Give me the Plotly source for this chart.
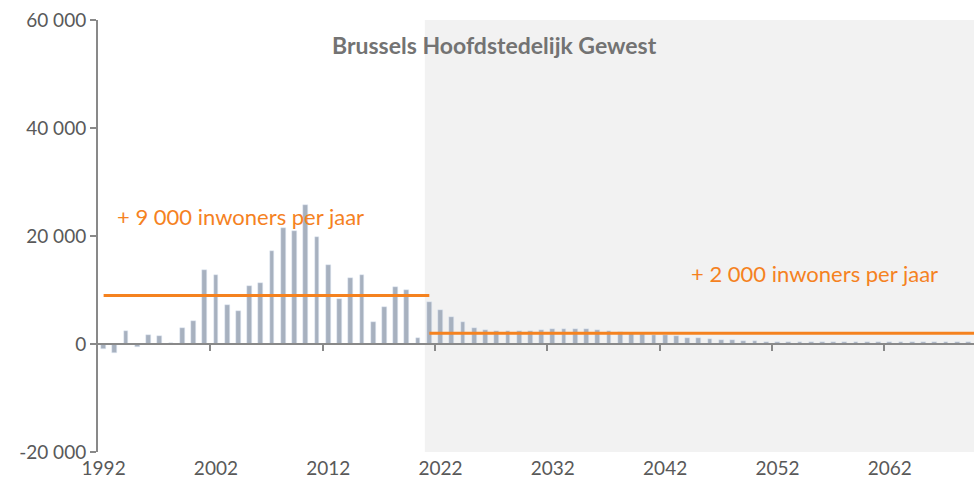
import plotly.graph_objects as go

years = list(range(1992, 2070))
growth = [
    -1000, -1700, 2350, -600, 1700, 1500, 100, 2900, 4250, 13700,
    12700, 7200, 6200, 10700, 11350, 17300, 21500, 20900, 25700, 19800,
    14600, 8300, 12150, 12800, 4000, 6900, 10500, 10000, 1100, 7700,
    6300, 5000, 4000, 3000, 2600, 2500, 2500, 2450, 2450, 2650,
    2780, 2850, 2850, 2780, 2650, 2450, 2250, 2000, 1900, 1750,
    1650, 1450, 1200, 1050, 880, 750, 680, 560, 480, 450,
    420, 380, 360, 350, 350, 350, 350, 350, 350, 350,
    350, 350, 350, 350, 350, 350, 350, 350,
]
avg_labels = ["+ 9 000 inwoners per jaar", "+ 2 000 inwoners per jaar"]
avg_values = [9000, 2000]
avg_start = [1992, 2021]
avg_end = [2021, years[-1] + 0.5]
title = "Brussels Hoofdstedelijk Gewest"
ytickvals = [-20000, 0, 20000, 40000, 60000]
yticktext = ["-20 000", "0", "20 000", "40 000", "60 000"]
xtickvals = list(range(1992, 2070, 10))
projection_start = 2020.6

ORANGE = "#f5821f"
BAR = "#a7b1bf"
TXT = "#595959"
AX = "#898989"
FONT = "Lato, 'Open Sans', sans-serif"

fig = go.Figure()
fig.add_trace(go.Bar(x=years, y=growth, marker_color=BAR, width=0.42, showlegend=False, hoverinfo="x+y"))
for s, e, v in zip(avg_start, avg_end, avg_values):
    fig.add_trace(go.Scatter(x=[s, e], y=[v, v], mode="lines", line=dict(color=ORANGE, width=3),
                             showlegend=False))
# invisible trace for the zero-line axis
fig.add_trace(go.Scatter(x=[years[0]], y=[0], xaxis="x2", mode="markers", marker_opacity=0,
                         showlegend=False, hoverinfo="skip"))

fig.add_shape(type="rect", xref="x", yref="y", x0=projection_start, x1=years[-1] + 0.5,
              y0=ytickvals[0], y1=ytickvals[-1], fillcolor="#f2f2f2", line_width=0, layer="below")

fig.add_annotation(x=1993.0, y=23700, text=avg_labels[0], showarrow=False, xanchor="left",
                   font=dict(color=ORANGE, size=22, family=FONT))
fig.add_annotation(x=2066.5, y=13000, text=avg_labels[1], showarrow=False, xanchor="right",
                   font=dict(color=ORANGE, size=22, family=FONT))
fig.add_annotation(x=2026.8, y=55400, text="<b>" + title + "</b>", showarrow=False, xanchor="center",
                   font=dict(color="#737373", size=23, family=FONT))

xr = [years[0] - 0.5, years[-1] + 0.5]
fig.update_layout(
    width=974, height=482,
    margin=dict(l=98, r=0, t=20, b=30),
    paper_bgcolor="white", plot_bgcolor="rgba(0,0,0,0)",
    font=dict(family=FONT, color=TXT, size=19),
    bargap=0,
    xaxis=dict(range=xr, tickvals=xtickvals, ticktext=[str(v) for v in xtickvals],
               showline=False, showgrid=False, zeroline=False, ticks="",
               tickfont=dict(size=19, color=TXT), ticklabelstandoff=3),
    xaxis2=dict(range=xr, overlaying="x", anchor="free", position=0.25, side="bottom",
                showline=True, linecolor=AX, linewidth=2, showgrid=False, zeroline=False,
                ticks="outside", ticklen=6, tickwidth=2, tickcolor=AX,
                tickvals=[v + 9.5 for v in xtickvals[:-1]], showticklabels=False),
    yaxis=dict(range=[ytickvals[0], ytickvals[-1]], tickvals=ytickvals, ticktext=yticktext,
               showline=True, linecolor=AX, linewidth=2, showgrid=False, zeroline=False,
               ticks="outside", ticklen=6, tickwidth=2, tickcolor=AX,
               tickfont=dict(size=19, color=TXT)),
)

fig.write_html("out.html", config={"displayModeBar": False},
               post_script="document.body.style.margin='0';document.body.style.padding='0';")
